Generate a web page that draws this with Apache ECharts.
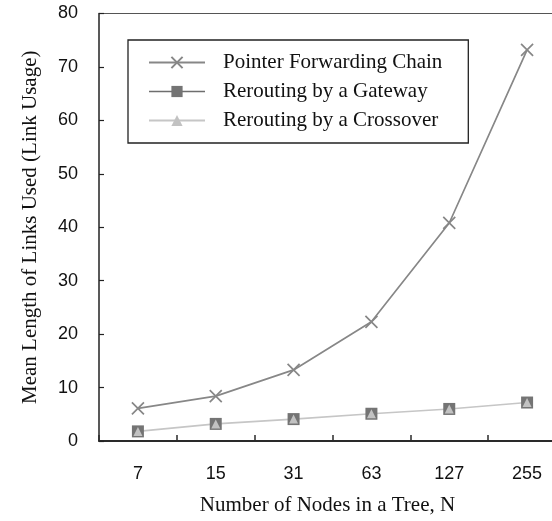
<!DOCTYPE html>
<html>
<head>
<meta charset="utf-8">
<script src="https://cdn.jsdelivr.net/npm/echarts@6/dist/echarts.min.js"></script>
<style>
  html, body { margin: 0; padding: 0; background: #fff; overflow: hidden; }
  /* the last category band runs past the right edge of the window */
  #chart { width: 566px; height: 521px; }
</style>
</head>
<body>
<div id="chart"></div>
<script>
// Tree sizes (number of nodes N)
const nodeCounts = ['7', '15', '31', '63', '127', '255'];

// Mean length of links used for each scheme
const pointerChain = [6.1, 8.4, 13.3, 22.3, 40.8, 73.2];
const viaGateway = [1.8, 3.2, 4.1, 5.1, 6.0, 7.2];
const viaCrossover = [1.8, 3.2, 4.1, 5.1, 6.0, 7.2];

const yTicks = { min: 0, max: 80, interval: 10 };

const NAME_PTR = 'Pointer Forwarding Chain';
const NAME_GW = 'Rerouting by a Gateway';
const NAME_CO = 'Rerouting by a Crossover';

const serif = 'Liberation Serif';
const sans = 'Liberation Sans';

const crossPath = 'path://M0,0L10,10M10,0L0,10';

const chart = echarts.init(document.getElementById('chart'), null, { renderer: 'canvas' });

chart.setOption({
  animation: false,
  backgroundColor: '#ffffff',
  grid: { left: 99, top: 13.5, right: 0, bottom: 76, containLabel: false },
  legend: {
    orient: 'vertical',
    left: 128,
    top: 40,
    padding: [12, 26, 12, 20],
    itemGap: 8,
    itemWidth: 56,
    itemHeight: 14,
    borderColor: '#222',
    borderWidth: 1.3,
    backgroundColor: '#fff',
    formatter: '{t|{name}}',
    textStyle: {
      fontFamily: serif,
      fontSize: 21,
      color: '#111',
      rich: { t: { fontFamily: serif, fontSize: 21, color: '#111', padding: [0, 0, 0, 13] } }
    },
    data: [
      { name: NAME_PTR },
      { name: NAME_GW, lineStyle: { opacity: 1, color: '#6e6e6e', width: 1.6 } },
      { name: NAME_CO }
    ]
  },
  xAxis: [
    {
      type: 'category',
      data: nodeCounts,
      boundaryGap: true,
      name: 'Number of Nodes in a Tree, N',
      nameLocation: 'middle',
      nameGap: 54,
      nameTextStyle: { fontFamily: serif, fontSize: 21, color: '#111', padding: [0, 10, 0, 0] },
      axisLine: { show: true, lineStyle: { color: '#2a2a2a', width: 2 } },
      axisTick: { show: true, inside: true, length: 6, lineStyle: { color: '#2a2a2a', width: 1.5 } },
      axisLabel: { fontFamily: sans, fontSize: 18, color: '#111', margin: 24 },
      splitLine: { show: false }
    },
    {
      type: 'category',
      data: nodeCounts,
      position: 'top',
      axisLine: { show: true, lineStyle: { color: '#555', width: 1 } },
      axisTick: { show: false },
      axisLabel: { show: false },
      splitLine: { show: false }
    }
  ],
  yAxis: {
    type: 'value',
    min: yTicks.min,
    max: yTicks.max,
    interval: yTicks.interval,
    name: 'Mean Length of Links Used (Link Usage)',
    nameLocation: 'middle',
    nameGap: 58,
    nameTextStyle: { fontFamily: serif, fontSize: 21, color: '#111' },
    axisLine: { show: true, lineStyle: { color: '#222', width: 1.5 } },
    axisTick: { show: true, inside: true, length: 5, lineStyle: { color: '#222', width: 1.2 } },
    axisLabel: { fontFamily: sans, fontSize: 18, color: '#111', margin: 21 },
    splitLine: { show: false }
  },
  series: [
    {
      name: NAME_PTR,
      type: 'line',
      data: pointerChain,
      z: 2,
      symbol: crossPath,
      symbolSize: 12,
      lineStyle: { color: '#878787', width: 1.7 },
      itemStyle: { color: 'rgba(0,0,0,0)', borderColor: '#878787', borderWidth: 1.7 }
    },
    {
      // crossover line; its markers are drawn by the overlay series below
      name: NAME_CO,
      type: 'line',
      data: viaCrossover,
      z: 2,
      symbol: 'triangle',
      symbolSize: 9,
      showSymbol: false,
      lineStyle: { color: '#c6c6c6', width: 1.6 },
      itemStyle: { color: '#c2c2c2' }
    },
    {
      // gateway line lies under the crossover line; only its squares show
      name: NAME_GW,
      type: 'line',
      data: viaGateway,
      z: 3,
      symbol: 'rect',
      symbolSize: 12,
      lineStyle: { color: '#6e6e6e', width: 1.6, opacity: 0 },
      itemStyle: { color: '#747474' }
    },
    {
      // triangle markers drawn on top of the squares
      name: NAME_CO,
      type: 'line',
      data: viaCrossover,
      z: 4,
      symbol: 'triangle',
      symbolSize: 9,
      lineStyle: { width: 0, opacity: 0 },
      itemStyle: { color: '#c2c2c2' }
    }
  ]
});
</script>
</body>
</html>
